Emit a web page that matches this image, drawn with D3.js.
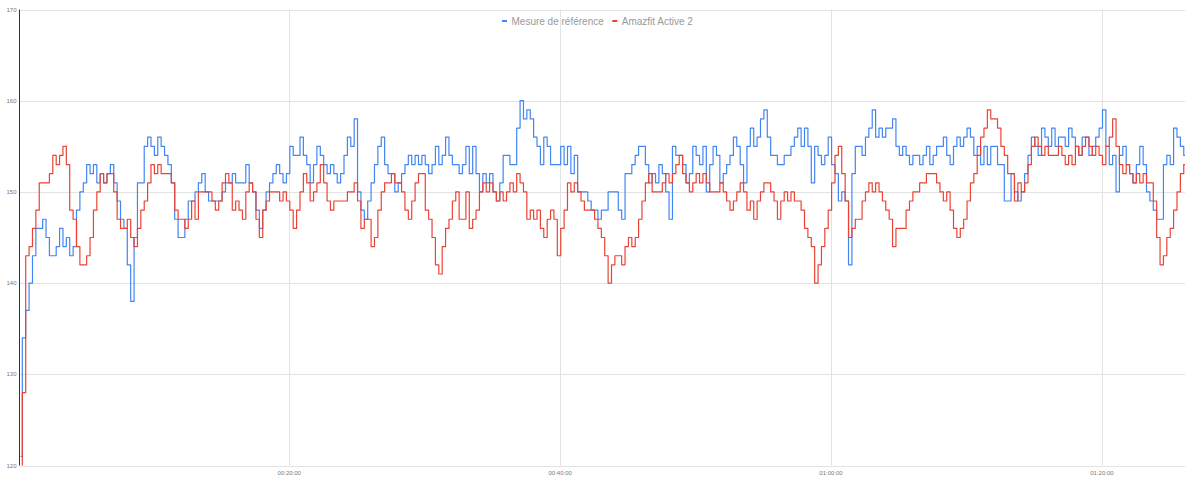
<!DOCTYPE html>
<html>
<head>
<meta charset="utf-8">
<script src="https://cdn.jsdelivr.net/npm/d3@7"></script>
<style>
  html, body { margin: 0; padding: 0; background: #fff; }
  svg { display: block; font-family: "Liberation Sans", Arial, sans-serif; }
</style>
</head>
<body>
<svg id="chart" width="1200" height="482"></svg>
<script>
// ---- data ----
const seriesNames = ["Mesure de référence", "Amazfit Active 2"];
const seriesColors = ["#4285F4", "#EA4335"];
const startSeconds = 10;     // first sample time (s)
const stepSeconds = 15;      // sample interval (s)
const yTicks = [120, 130, 140, 150, 160, 170];
const xTickSeconds = [1200, 2400, 3600, 4800];
const xTickLabels = ["00:20:00", "00:40:00", "01:00:00", "01:20:00"];

const reference = [
  121,134,137,140,143,146,146,147,145,143,
  143,144,146,144,145,143,144,148,150,151,
  153,152,153,151,152,151,152,153,151,149,
  147,146,142,138,145,151,151,155,156,155,
  154,156,155,154,153,151,147,145,145,147,
  149,149,150,151,152,150,149,149,149,149,
  150,151,151,152,151,151,151,153,151,150,
  148,146,148,150,151,152,153,152,151,152,
  155,154,154,156,154,153,151,153,155,154,
  153,152,153,152,151,152,154,156,155,158,
  150,148,147,149,151,153,155,156,153,152,
  152,150,151,152,153,154,153,154,153,154,
  153,152,153,155,153,154,156,154,153,153,
  152,153,155,152,155,152,150,152,151,152,
  150,149,151,154,154,153,153,157,160,158,
  159,158,156,155,153,156,155,153,153,153,
  155,153,155,152,154,150,150,150,149,148,
  148,147,148,148,150,150,150,148,147,152,
  152,153,154,155,155,153,151,152,151,153,
  152,150,147,155,154,154,153,151,152,155,
  154,153,155,150,153,155,154,151,152,153,
  154,156,155,153,151,155,157,155,156,158,
  159,156,154,154,153,153,154,154,155,156,
  157,155,157,155,151,155,154,153,154,156,
  153,152,149,150,149,142,152,155,155,154,
  156,157,159,156,157,156,157,157,158,155,
  154,155,154,153,154,154,153,154,155,153,
  154,155,155,156,154,153,155,156,155,156,
  157,156,154,155,153,155,153,155,155,153,
  153,149,149,152,150,149,150,152,154,156,
  155,154,157,156,155,157,155,156,156,155,
  157,156,155,154,156,156,154,155,156,157,
  159,155,153,154,150,154,155,153,152,151,
  153,155,153,150,149,148,147,147,153,154,
  153,157,156,155,154
];

const amazfit = [
  118,128,143,144,146,148,151,151,151,152,
  154,153,154,155,153,148,147,144,142,142,
  143,145,148,150,152,151,152,152,150,147,
  146,146,147,145,144,146,148,149,151,153,
  152,153,152,152,152,151,148,147,147,146,
  147,149,147,150,150,150,150,149,148,149,
  151,152,151,148,149,148,147,150,151,150,
  147,145,148,149,150,150,150,149,150,149,
  148,146,148,150,152,151,149,150,151,153,
  151,149,148,149,149,149,149,150,150,151,
  149,146,147,147,144,145,148,150,151,151,
  152,151,151,150,148,147,149,151,152,152,
  148,147,145,142,141,144,146,147,149,150,
  147,147,150,146,147,148,150,151,150,151,
  150,149,150,149,150,151,150,152,151,150,
  147,148,147,148,146,145,147,148,147,143,
  146,148,151,150,151,150,149,148,148,148,
  147,146,145,143,140,142,143,143,142,144,
  145,144,145,147,149,151,152,150,150,150,
  151,152,151,152,153,154,152,151,150,151,
  152,151,152,151,150,150,150,151,150,149,
  148,149,150,151,150,148,149,147,149,150,
  151,151,150,149,147,149,150,149,150,149,
  149,148,146,145,144,140,142,144,146,148,
  151,154,155,152,149,145,146,147,147,149,
  150,151,150,151,150,149,148,147,144,146,
  146,146,148,149,150,150,151,151,152,152,
  152,151,150,149,150,148,146,145,146,147,
  149,151,152,154,156,157,159,158,158,157,
  155,154,152,152,149,151,150,151,153,155,
  156,155,154,155,154,154,154,155,154,153,
  154,153,155,154,155,156,155,154,155,154,
  153,155,156,158,155,153,152,153,152,151,
  152,151,152,151,151,149,145,142,143,145,
  146,148,150,152,153
];

// ---- layout ----
const svg = d3.select("#chart");
const plotLeft = 19.5, plotRight = 1185, plotTop = 9.5, plotBottom = 465.5;

const x = d3.scaleLinear().domain([5, 5168]).range([plotLeft, plotRight]);
const y = d3.scaleLinear().domain([120, 170]).range([plotBottom, plotTop]);

// gridlines
svg.append("g").selectAll("line").data(yTicks).join("line")
  .attr("x1", plotLeft).attr("x2", plotRight)
  .attr("y1", d => Math.round(y(d)) + 0.5).attr("y2", d => Math.round(y(d)) + 0.5)
  .attr("stroke", "#e2e2e2").attr("stroke-width", 1);

svg.append("g").selectAll("line").data(xTickSeconds).join("line")
  .attr("x1", d => Math.round(x(d)) + 0.5).attr("x2", d => Math.round(x(d)) + 0.5)
  .attr("y1", plotTop).attr("y2", plotBottom)
  .attr("stroke", "#e2e2e2").attr("stroke-width", 1);

// y labels
svg.append("g").selectAll("text").data(yTicks).join("text")
  .attr("x", 16.5).attr("y", d => y(d))
  .attr("text-anchor", "end").attr("dominant-baseline", "central")
  .attr("font-size", 6).attr("fill", "#777")
  .text(d => d);

// x labels
svg.append("g").selectAll("text").data(xTickSeconds).join("text")
  .attr("x", d => x(d)).attr("y", 472.5)
  .attr("text-anchor", "middle").attr("dominant-baseline", "central")
  .attr("font-size", 6).attr("fill", "#777")
  .text((d, i) => xTickLabels[i]);

// clip
svg.append("clipPath").attr("id", "plotclip").append("rect")
  .attr("x", plotLeft).attr("y", plotTop - 2)
  .attr("width", plotRight - plotLeft).attr("height", plotBottom - plotTop + 2);

const line = d3.line()
  .x((d, i) => x(startSeconds + i * stepSeconds))
  .y(d => y(d))
  .curve(d3.curveStep);

const plot = svg.append("g").attr("clip-path", "url(#plotclip)");
[reference, amazfit].forEach((vals, si) => {
  plot.append("path")
    .datum(vals)
    .attr("d", line)
    .attr("fill", "none")
    .attr("stroke", seriesColors[si])
    .attr("stroke-width", 1.2)
    .attr("stroke-linejoin", "round");
});

// left axis line
svg.append("line")
  .attr("x1", plotLeft).attr("x2", plotLeft).attr("y1", plotTop).attr("y2", plotBottom)
  .attr("stroke", "#333").attr("stroke-width", 1);

// legend
const legend = svg.append("g");
let lx = 502;
seriesNames.forEach((name, i) => {
  legend.append("rect")
    .attr("x", lx).attr("y", 20).attr("width", 5).attr("height", 2)
    .attr("fill", seriesColors[i]);
  const t = legend.append("text")
    .attr("x", lx + 9.5).attr("y", 21)
    .attr("dominant-baseline", "central")
    .attr("font-size", 10).attr("fill", "#999")
    .text(name);
  lx = lx + 9.5 + t.node().getComputedTextLength() + 8.5;
});
</script>
</body>
</html>
